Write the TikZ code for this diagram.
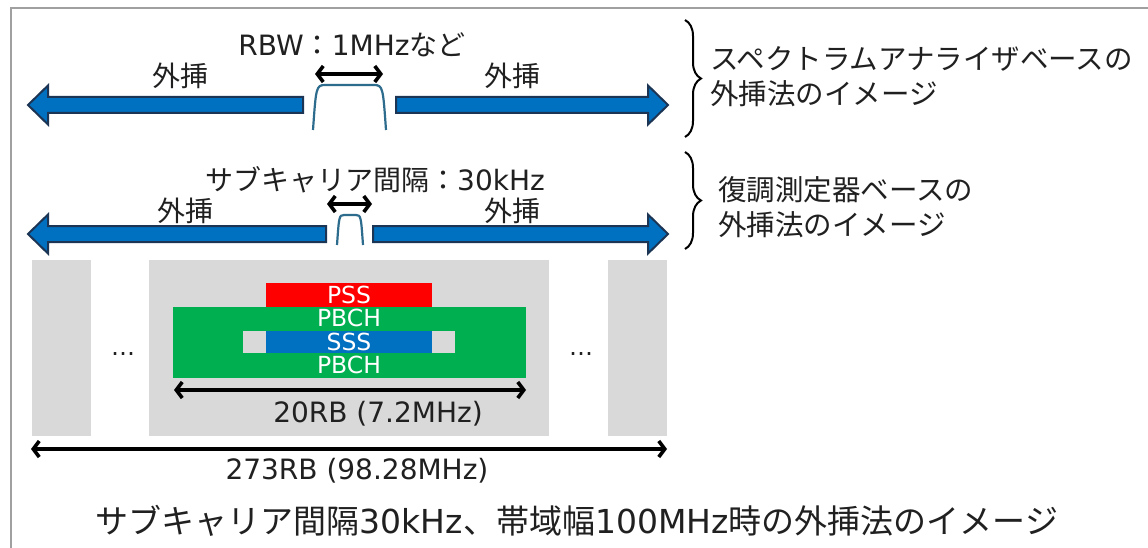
\documentclass[tikz,border=0pt]{standalone}
\usepackage{fontspec}
\setmainfont{DejaVu Sans}
\newfontfamily\jp{Noto Sans CJK JP}
\usetikzlibrary{arrows.meta,decorations.pathreplacing}
\definecolor{bluefill}{HTML}{0070C0}
\definecolor{blueedge}{HTML}{1C3554}
\definecolor{bumpc}{HTML}{2E6C8E}
\definecolor{lgray}{HTML}{D9D9D9}
\definecolor{pssred}{HTML}{FF0000}
\definecolor{pbchgreen}{HTML}{00B050}
\definecolor{sssblue}{HTML}{0070C0}
\definecolor{framegray}{HTML}{A0A0A0}
\definecolor{txt}{HTML}{202020}
\begin{document}
\begin{tikzpicture}[x=1pt,y=-1pt,
  lbl/.style={inner sep=0pt, text height=21.3pt, text depth=0pt, text=txt,
    font=\fontsize{28}{29}\selectfont},
  jlbl/.style={lbl, font=\fontsize{28}{29}\selectfont\jp},
  captxt/.style={inner sep=0pt, text height=25pt, text depth=0pt, text=txt,
    font=\fontsize{33}{36}\selectfont},
  side/.style={inner sep=0pt, text=txt, align=left, anchor=base west,
    font=\fontsize{28.5}{35}\selectfont\jp},
  wlbl/.style={inner sep=0pt, text height=17.5pt, text depth=0pt, text=white,
    font=\fontsize{23.5}{25}\selectfont},
  bluearrow/.style={fill=bluefill, draw=blueedge, line width=2pt, line join=miter},
  bump/.style={draw=bumpc, line width=2.2pt},
  dimarrow/.style={draw=black, line width=3.6pt,
    arrows={Straight Barb[length=6pt,width=16pt]-Straight Barb[length=6pt,width=16pt]}},
  brc/.style={draw=black, line width=2pt, decorate, decoration={brace, amplitude=16pt, aspect=0.5}},
  blk/.style={fill=lgray}
]
\useasboundingbox (0,0) rectangle (1148,548);
\fill[white] (0,0) rectangle (1148,548);
% frame
\draw[framegray, line width=2pt] (11,548) -- (11,8) -- (1148,8);

% ---------- row 1: spectrum analyzer ----------
\node[lbl] (rbw) at (352,45) {RBW{\jp ：}1MHz{\jp など}};
\node[jlbl] (ext1l) at (180,76) {外挿};
\node[jlbl] (ext1r) at (512,76) {外挿};
\coordinate (r1a) at (315,74);
\coordinate (r1b) at (383,74);
\draw[dimarrow] (r1a) -- (r1b);
\draw[bump] (313,130) .. controls (316,88) and (316,85) .. (325,85) -- (374,85)
  .. controls (383,85) and (383,88) .. (386,130);
\draw[bluearrow] (28,105) -- (48,85.5) -- (48,97) -- (303,97) -- (303,113) -- (48,113) -- (48,124.5) -- cycle;
\draw[bluearrow] (396,97) -- (648,97) -- (648,85.5) -- (668,105) -- (648,124.5) -- (648,113) -- (396,113) -- cycle;
\coordinate (b1t) at (685,20);
\coordinate (b1b) at (685,137);
\draw[brc] (b1t) -- (b1b);
\node[side] (sa) at (710,105) {スペクトラムアナライザベースの\\外挿法のイメージ};

% ---------- row 2: demodulation ----------
\node[lbl] (scs) at (375,180) {{\jp サブキャリア間隔：}30kHz};
\node[jlbl] (ext2l) at (185,211) {外挿};
\node[jlbl] (ext2r) at (512,211) {外挿};
\coordinate (r2a) at (327,204);
\coordinate (r2b) at (372,204);
\draw[dimarrow] (r2a) -- (r2b);
\draw[bump] (337,245) .. controls (339,217) and (339,215) .. (344,215) -- (356,215)
  .. controls (361,215) and (361,217) .. (363,245);
\draw[bluearrow] (28,234) -- (48,214.5) -- (48,226) -- (326,226) -- (326,242) -- (48,242) -- (48,253.5) -- cycle;
\draw[bluearrow] (373,226) -- (648,226) -- (648,214.5) -- (668,234) -- (648,253.5) -- (648,242) -- (373,242) -- cycle;
\coordinate (b2t) at (685,152);
\coordinate (b2b) at (685,249);
\draw[brc] (b2t) -- (b2b);
\node[side] (dm) at (718,235) {復調測定器ベースの\\外挿法のイメージ};

% ---------- resource grid ----------
\fill[blk] (32,260) rectangle (91,436);
\fill[blk] (149,260) rectangle (549,436);
\fill[blk] (608,260) rectangle (667,436);
\node[lbl, font=\fontsize{24}{25}\selectfont] (dotl) at (123,345) {…};
\node[lbl, font=\fontsize{24}{25}\selectfont] (dotr) at (581,345) {…};

\fill[pbchgreen] (173,307) rectangle (526,378);
\fill[lgray] (243,331) rectangle (455,353);
\node[fill=pssred, minimum width=166pt, minimum height=24pt, inner sep=0pt] (pssbox) at (349,295) {};
\node[fill=sssblue, minimum width=166pt, minimum height=22pt, inner sep=0pt] (sssbox) at (349,342) {};
\node[wlbl] (pss) at (349,295) {PSS};
\node[wlbl] (pbch1) at (349,318) {PBCH};
\node[wlbl] (sss) at (349,342) {SSS};
\node[wlbl] (pbch2) at (349,365) {PBCH};

\coordinate (d20l) at (174,390);
\coordinate (d20r) at (526,390);
\draw[dimarrow] (d20l) -- (d20r);
\node[lbl] (rb20) at (378,412) {20RB (7.2MHz)};

\coordinate (d273l) at (31,449);
\coordinate (d273r) at (667,449);
\draw[dimarrow] (d273l) -- (d273r);
\node[lbl] (rb273) at (357,469) {273RB (98.28MHz)};

\node[captxt] (caption) at (577,521) {{\jp サブキャリア間隔}30kHz{\jp 、帯域幅}100MHz{\jp 時の外挿法のイメージ}};
\end{tikzpicture}
\end{document}
